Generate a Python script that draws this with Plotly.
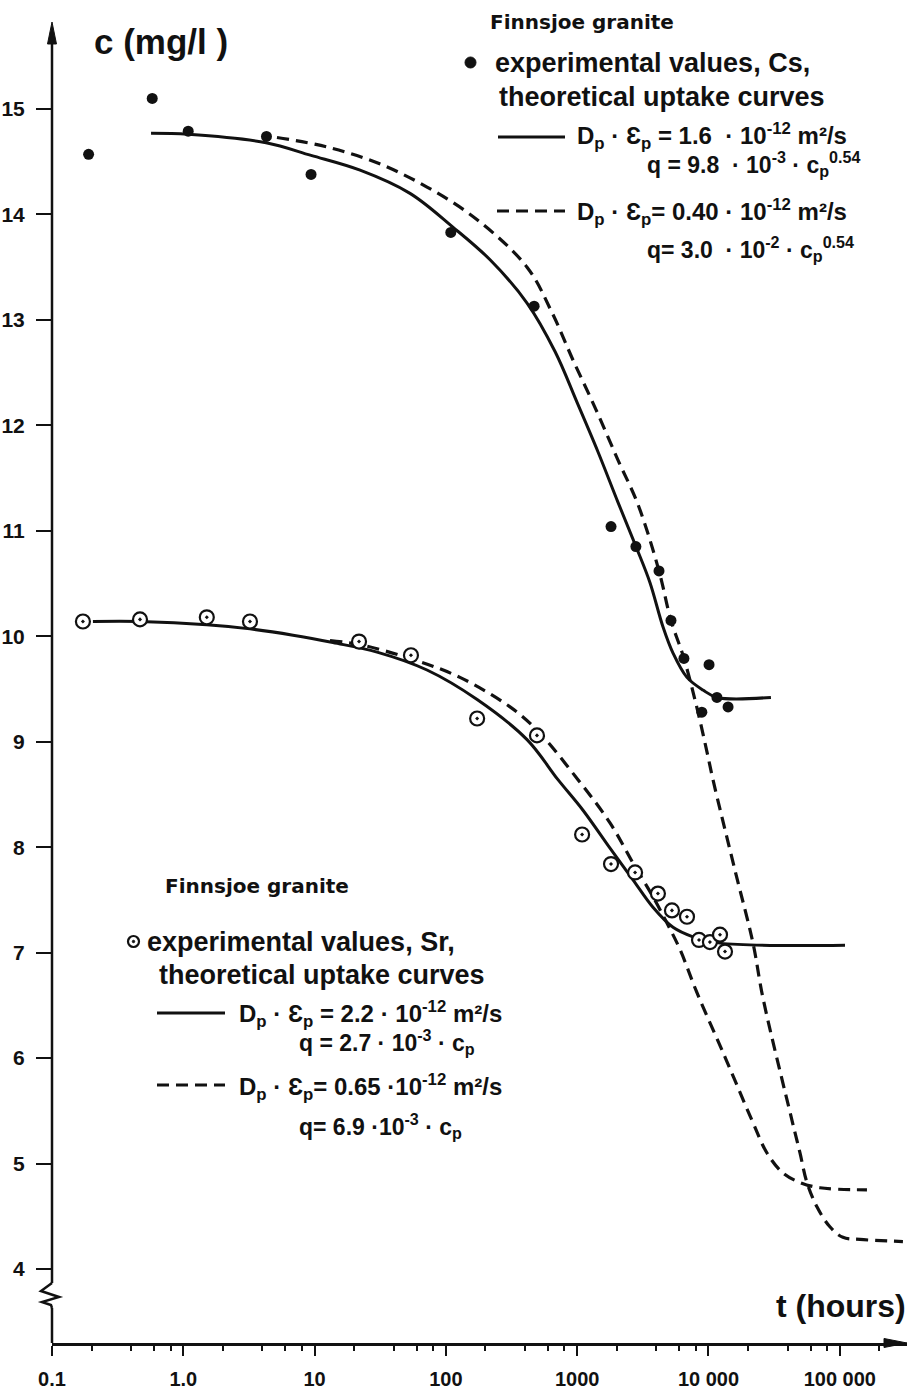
import plotly.graph_objects as go

# ---------------- data ----------------
# Cs, experimental values (filled dots)
cs_t = [0.19, 0.58, 1.09, 4.3, 9.4, 109, 470, 1810, 2800, 4200, 5180, 6500, 10100, 11600, 8900, 14100]
cs_c = [14.57, 15.10, 14.79, 14.74, 14.38, 13.83, 13.13, 11.04, 10.85, 10.62, 10.15, 9.79, 9.73, 9.42, 9.28, 9.33]

# Cs theoretical curve, Dp*ep = 1.6e-12 (solid)
cs_solid_t = [0.568, 1.09, 4.27, 9.4, 22.2, 53.3, 113, 217, 415, 678, 996, 1439, 2046, 2805,
              3581, 4500, 5370, 6855, 9080, 11610, 29900]
cs_solid_c = [14.77, 14.76, 14.68, 14.56, 14.42, 14.20, 13.88, 13.57, 13.16, 12.70, 12.22, 11.75, 11.27, 10.85,
              10.51, 10.09, 9.84, 9.61, 9.49, 9.42, 9.42]

# Cs theoretical curve, Dp*ep = 0.40e-12 (dashed)
cs_dash_t = [5.17, 12.4, 29.9, 71.8, 173, 415, 643, 929, 1390, 2046, 2904, 4198, 5180, 6505, 8318, 9910,
             10820, 15920, 21830, 26000, 43250, 49770, 56230, 67000, 84100, 105700, 142600, 302700]
cs_dash_c = [14.73, 14.64, 14.49, 14.26, 13.95, 13.50, 13.07, 12.62, 12.15, 11.67, 11.25, 10.62, 10.15, 9.79, 9.28, 8.86,
             8.64, 7.78, 7.09, 6.57, 5.41, 5.10, 4.82, 4.59, 4.40, 4.30, 4.28, 4.26]

# Sr, experimental values (circled dots)
sr_t = [0.172, 0.468, 1.51, 3.22, 21.8, 54.2, 173, 494, 1090, 1810, 2760, 4120, 5270, 6860, 8470, 10260, 12240, 13360]
sr_c = [10.14, 10.16, 10.18, 10.14, 9.95, 9.82, 9.22, 9.06, 8.12, 7.84, 7.76, 7.56, 7.40, 7.34, 7.12, 7.10, 7.17, 7.01]

# Sr theoretical curve, Dp*ep = 2.2e-12 (solid)
sr_solid_t = [0.205, 0.468, 1.51, 3.22, 6.85, 13.8, 29.9, 71.8, 173, 415, 714, 1107, 1778, 2661, 3776, 5370,
              7620, 12240, 109600]
sr_solid_c = [10.14, 10.14, 10.11, 10.07, 10.01, 9.94, 9.85, 9.68, 9.40, 9.02, 8.64, 8.35, 7.99, 7.69, 7.43, 7.24,
              7.15, 7.09, 7.07]

# Sr theoretical curve, Dp*ep = 0.65e-12 (dashed)
sr_dash_t = [13.1, 22.2, 53.3, 128, 308, 494, 1014, 1778, 2661, 3776, 4830, 6067, 8170, 13360, 21430, 27900,
             36900, 49770, 70600, 161100]
sr_dash_c = [9.96, 9.92, 9.79, 9.61, 9.33, 9.11, 8.64, 8.23, 7.85, 7.53, 7.28, 7.03, 6.62, 6.01, 5.41, 5.10,
             4.91, 4.82, 4.77, 4.75]

x_tickvals = [0.1, 1, 10, 100, 1000, 10000, 100000]
x_ticktext = ["0.1", "1.0", "10", "100", "1000", "10 000", "100 000"]
y_tickvals = [4, 5, 6, 7, 8, 9, 10, 11, 12, 13, 14, 15]

# ---------------- figure ----------------
W, H = 913, 1392
ML, MR, MT, MB = 52, 6, 22, 49
PW, PH = W - ML - MR, H - MT - MB


def pxx(x):
    return (x - ML) / PW


def pxy(y):
    return (H - MB - y) / PH


FONT = "Liberation Sans, Arial, sans-serif"
WIDE = "DejaVu Sans, Verdana, sans-serif"
INK = "#111111"

fig = go.Figure()

line_solid = dict(color=INK, width=3, shape="spline", smoothing=1.0)
line_dash = dict(color=INK, width=3.2, dash="12px,7px", shape="spline", smoothing=1.0)

fig.add_trace(go.Scatter(x=cs_solid_t, y=cs_solid_c, mode="lines", line=line_solid, hoverinfo="skip"))
fig.add_trace(go.Scatter(x=cs_dash_t, y=cs_dash_c, mode="lines", line=line_dash, hoverinfo="skip"))
fig.add_trace(go.Scatter(x=sr_solid_t, y=sr_solid_c, mode="lines", line=line_solid, hoverinfo="skip"))
fig.add_trace(go.Scatter(x=sr_dash_t, y=sr_dash_c, mode="lines", line=line_dash, hoverinfo="skip"))

fig.add_trace(go.Scatter(x=cs_t, y=cs_c, mode="markers",
                         marker=dict(symbol="circle", size=11, color=INK)))
fig.add_trace(go.Scatter(x=sr_t, y=sr_c, mode="markers",
                         marker=dict(symbol="circle-dot", size=14, color="white",
                                     line=dict(color=INK, width=2.2))))

minor_vals = [m * 10 ** e for e in range(-1, 6) for m in (2, 4, 6, 8)]

fig.update_layout(
    width=W, height=H, autosize=False,
    margin=dict(l=ML, r=MR, t=MT, b=MB),
    paper_bgcolor="white", plot_bgcolor="white",
    showlegend=False,
    xaxis=dict(type="log", range=[-1, 5.512], showgrid=False, zeroline=False, automargin=False,
               showline=True, linecolor=INK, linewidth=2.5,
               ticks="outside", ticklen=10, tickwidth=2, tickcolor=INK,
               tickvals=x_tickvals, ticktext=[f"<b>{t}</b>" for t in x_ticktext],
               tickfont=dict(family=FONT, size=20, color=INK),
               ticklabelstandoff=6,
               minor=dict(ticks="outside", ticklen=5, tickwidth=1.5, tickcolor=INK,
                          tickvals=minor_vals, showgrid=False)),
    yaxis=dict(range=[3.298, 15.825], showgrid=False, zeroline=False, showline=False, automargin=False,
               ticks="outside", ticklen=15, tickwidth=2, tickcolor=INK,
               tickvals=y_tickvals, ticktext=[f"<b>{v}</b>" for v in y_tickvals],
               tickfont=dict(family=FONT, size=21, color=INK),
               ticklabelstandoff=7),
)

shapes = []
# y axis with break
shapes.append(dict(type="line", xref="paper", yref="paper", x0=0, x1=0, y0=pxy(1343), y1=pxy(1308),
                   line=dict(color=INK, width=2.5)))
zig = [(52, 1308), (51, 1305), (42, 1302), (59, 1297), (41, 1291), (52, 1283)]
path = "M " + " L ".join(f"{pxx(a):.5f},{pxy(b):.5f}" for a, b in zig)
shapes.append(dict(type="path", xref="paper", yref="paper", path=path, line=dict(color=INK, width=2.5)))
shapes.append(dict(type="line", xref="paper", yref="paper", x0=0, x1=0, y0=pxy(1283), y1=pxy(36),
                   line=dict(color=INK, width=2.5)))
# arrowheads
tri_y = [(52, 22), (47.5, 44), (56.5, 44)]
shapes.append(dict(type="path", xref="paper", yref="paper",
                   path="M " + " L ".join(f"{pxx(a):.5f},{pxy(b):.5f}" for a, b in tri_y) + " Z",
                   fillcolor=INK, line=dict(color=INK, width=1)))
tri_x = [(907, 1343), (884, 1338.5), (884, 1347.5)]
shapes.append(dict(type="path", xref="paper", yref="paper",
                   path="M " + " L ".join(f"{pxx(a):.5f},{pxy(b):.5f}" for a, b in tri_x) + " Z",
                   fillcolor=INK, line=dict(color=INK, width=1)))
# legend line samples
for (x0, x1, y, dashed) in [(498, 565, 137, False), (497, 565, 211, True),
                            (157, 225, 1013, False), (157, 225, 1085, True)]:
    shapes.append(dict(type="line", xref="paper", yref="paper", x0=pxx(x0), x1=pxx(x1),
                       y0=pxy(y), y1=pxy(y),
                       line=dict(color=INK, width=3, dash="12px,7px" if dashed else "solid")))
# legend marker samples
shapes.append(dict(type="circle", xref="paper", yref="paper",
                   x0=pxx(465), x1=pxx(476), y0=pxy(57), y1=pxy(68),
                   fillcolor=INK, line=dict(color=INK, width=1)))
shapes.append(dict(type="circle", xref="paper", yref="paper",
                   x0=pxx(128), x1=pxx(139), y0=pxy(936), y1=pxy(947),
                   fillcolor="white", line=dict(color=INK, width=2.2)))
shapes.append(dict(type="circle", xref="paper", yref="paper",
                   x0=pxx(132.3), x1=pxx(134.7), y0=pxy(940.3), y1=pxy(942.7),
                   fillcolor=INK, line=dict(color=INK, width=1)))
fig.update_layout(shapes=shapes)


def txt(x, y, s, size, anchor="left", family=FONT):
    fig.add_annotation(x=pxx(x), y=pxy(y), xref="paper", yref="paper", text=f"<b>{s}</b>", showarrow=False,
                       xanchor=anchor, yanchor="middle",
                       font=dict(family=family, size=size, color=INK))


# axis titles
txt(92, 42, "c (mg/l )", 35)
txt(908, 1306, "t (hours)", 32, anchor="right")

# upper legend (Cs)
txt(488, 22, "Finnsjoe granite", 20, family=WIDE)
txt(493, 63, "experimental values, Cs,", 27)
txt(497, 97, "theoretical uptake curves", 27)
txt(575, 136, "D<sub>p</sub> · Ɛ<sub>p</sub> = 1.6  · 10<sup>-12</sup> m²/s", 24)
txt(645, 164, "q = 9.8  · 10<sup>-3</sup> · c<sub>p</sub><sup>0.54</sup>", 23)
txt(575, 212, "D<sub>p</sub> · Ɛ<sub>p</sub>= 0.40 · 10<sup>-12</sup> m²/s", 24)
txt(645, 249, "q= 3.0  · 10<sup>-2</sup> · c<sub>p</sub><sup>0.54</sup>", 23)

# lower legend (Sr)
txt(163, 886, "Finnsjoe granite", 20, family=WIDE)
txt(145, 942, "experimental values, Sr,", 27)
txt(157, 975, "theoretical uptake curves", 27)
txt(237, 1014, "D<sub>p</sub> · Ɛ<sub>p</sub> = 2.2 · 10<sup>-12</sup> m²/s", 24)
txt(297, 1042, "q = 2.7 · 10<sup>-3</sup> · c<sub>p</sub>", 23)
txt(237, 1087, "D<sub>p</sub> · Ɛ<sub>p</sub>= 0.65 ·10<sup>-12</sup> m²/s", 24)
txt(297, 1126, "q= 6.9 ·10<sup>-3</sup> · c<sub>p</sub>", 23)

fig.write_html("out.html")
